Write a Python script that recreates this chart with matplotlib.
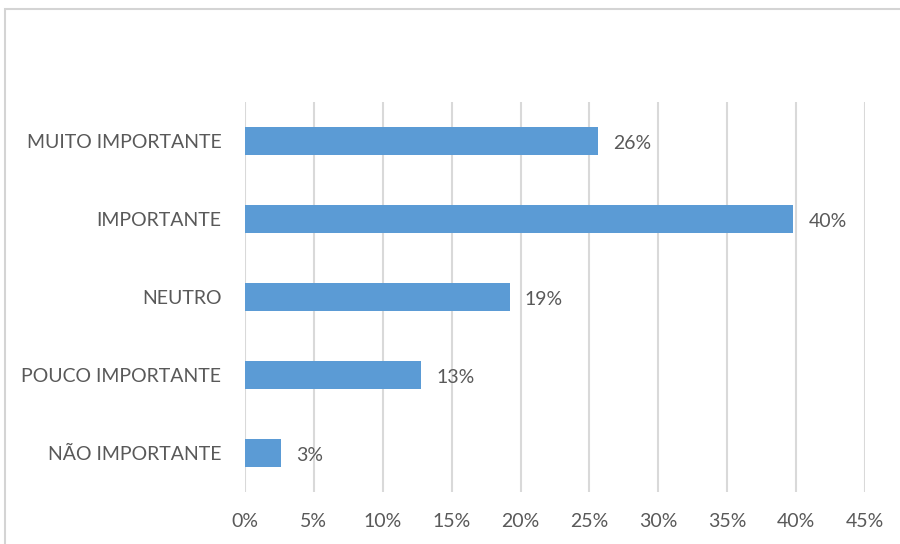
import matplotlib.pyplot as plt
from matplotlib.patches import Rectangle
from matplotlib.ticker import MultipleLocator, FuncFormatter

categories = ['NÃO IMPORTANTE', 'POUCO IMPORTANTE', 'NEUTRO', 'IMPORTANTE', 'MUITO IMPORTANTE']
values = [2.6, 12.8, 19.2, 39.8, 25.6]

plt.rcParams['font.family'] = ['Lato', 'DejaVu Sans']
text_color = '#595959'

fig = plt.figure(figsize=(9, 5.44), dpi=100)
ax = fig.add_axes([0.2722, 0.0956, 0.6889, 0.7169])

# outer chart frame
fig.patches.append(Rectangle((5 / 900, -0.05), 1.0, 0.05 + (1 - 9 / 544),
                             transform=fig.transFigure, fill=False,
                             edgecolor='#d4d4d4', linewidth=1.5))

y = range(len(categories))
bars = ax.barh(y, values, height=0.36, color='#5b9bd5', zorder=3)

for b, v in zip(bars, values):
    ax.annotate(f'{v:.0f}%', (b.get_width(), b.get_y() + b.get_height() / 2),
                xytext=(11, -2), textcoords='offset points', va='center', ha='left',
                fontsize=14, color=text_color)

ax.set_xlim(0, 45)
ax.set_ylim(-0.5, len(categories) - 0.5)
ax.set_yticks(list(y))
ax.set_yticklabels(categories)
ax.xaxis.set_major_locator(MultipleLocator(5))
ax.xaxis.set_major_formatter(FuncFormatter(lambda x, _: f'{x:.0f}%'))

ax.grid(axis='x', color='#d9d9d9', linewidth=1.5, zorder=0)
ax.tick_params(axis='both', length=0, labelsize=14, labelcolor=text_color)
ax.tick_params(axis='y', pad=17)
ax.tick_params(axis='x', pad=15)
for s in ax.spines.values():
    s.set_visible(False)

fig.savefig('out.png', dpi=100)
